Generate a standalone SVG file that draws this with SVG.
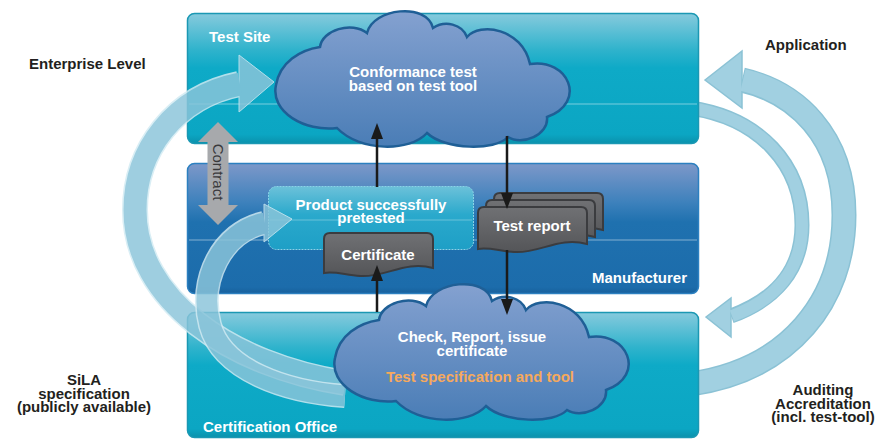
<svg xmlns="http://www.w3.org/2000/svg" width="879" height="439" viewBox="0 0 879 439">
  <defs>
    <linearGradient id="gTeal" x1="0" y1="0" x2="0" y2="1">
      <stop offset="0" stop-color="#86cadd"/>
      <stop offset="0.28" stop-color="#2fb3cc"/>
      <stop offset="0.42" stop-color="#0eaac7"/>
      <stop offset="0.93" stop-color="#0ba6c3"/>
      <stop offset="1" stop-color="#0a91ac"/>
    </linearGradient>
    <linearGradient id="gBlue" x1="0" y1="0" x2="0" y2="1">
      <stop offset="0" stop-color="#7d98c9"/>
      <stop offset="0.3" stop-color="#3d81bc"/>
      <stop offset="0.45" stop-color="#1f71af"/>
      <stop offset="0.95" stop-color="#1c6cab"/>
      <stop offset="1" stop-color="#17609c"/>
    </linearGradient>
    <linearGradient id="gProduct" x1="0" y1="0" x2="0" y2="1">
      <stop offset="0" stop-color="#6cc1d9"/>
      <stop offset="0.45" stop-color="#2aa9cc"/>
      <stop offset="1" stop-color="#1e9fc6"/>
    </linearGradient>
    <linearGradient id="gCloud" x1="0" y1="0" x2="0" y2="1">
      <stop offset="0" stop-color="#84a1d0"/>
      <stop offset="1" stop-color="#4a7db6"/>
    </linearGradient>
    <linearGradient id="gDoc" x1="0" y1="0" x2="0" y2="1">
      <stop offset="0" stop-color="#707174"/>
      <stop offset="1" stop-color="#545558"/>
    </linearGradient>
    <path id="cloud" d="M 320,47 C 322,30 352,21 367,33 C 373,8 427,2 433,28 C 445,20 462,24 467,37 C 480,22 522,28 530,64 C 568,58 588,102 547,117 C 549,135 522,146 508,137 C 495,151 445,150 427,133 C 410,152 360,152 337,128 C 305,132 270,112 276,85 C 280,62 300,50 320,47 Z"/>
    <marker id="head" viewBox="0 0 16 12" refX="0" refY="6" markerWidth="16" markerHeight="12" markerUnits="userSpaceOnUse" orient="auto">
      <path d="M0,0 L16,6 L0,12 Z" fill="#1a1a1a"/>
    </marker>
  </defs>
  <style>
    .panel { stroke-width: 1.5; }
    .divider { stroke: #ffffff; stroke-opacity: 0.45; stroke-width: 1; }
    .cloud { fill: url(#gCloud); stroke: #1f5f96; stroke-width: 2.5; }
    .doc { fill: url(#gDoc); stroke: #3b3c3f; stroke-width: 2; }
    .flow { stroke: #1a1a1a; stroke-width: 2.5; fill: none; marker-end: url(#head); }
    .wt { font-family: "Liberation Sans", Arial, sans-serif; font-weight: bold; font-size: 15px; fill: #ffffff; }
    .bk { font-family: "Liberation Sans", Arial, sans-serif; font-weight: bold; font-size: 15px; fill: #231f20; }
    .mid { text-anchor: middle; }
    .ring-edge { fill: none; stroke: #8bc2d5; }
    .ring-body { fill: none; stroke: #a1d0e1; }
    .ring-head { fill: #a1d0e1; stroke: #8bc2d5; stroke-width: 1.5; stroke-linejoin: miter; }
    .loop-edge { fill: none; stroke: #d2ebf3; }
    .loop-body { fill: none; stroke: #8bc5da; }
    .loop-head { fill: #8bc5da; stroke: #d2ebf3; stroke-width: 1; }
  </style>

  <rect x="0" y="0" width="879" height="439" fill="#ffffff"/>

  <!-- right-hand cycle arrows (pass behind the panels) -->
  <g id="arrow-application">
    <path class="ring-edge" stroke-width="25" d="M 690,384 C 790,370 844,300 844,215 C 844,135 795,92 742,80"/>
    <polygon class="ring-head" points="705,80 742,51 742,108"/>
    <path class="ring-body" stroke-width="22" d="M 690,384 C 790,370 844,300 844,215 C 844,135 795,92 743,80"/>
  </g>
  <g id="arrow-auditing">
    <path class="ring-edge" stroke-width="15" d="M 690,108 C 760,118 802,165 802,225 C 802,270 775,300 731,316"/>
    <polygon class="ring-head" points="706,317 731,298 731,337"/>
    <path class="ring-body" stroke-width="12" d="M 690,108 C 760,118 802,165 802,225 C 802,270 775,300 732,316"/>
  </g>

  <!-- swim-lane panels -->
  <g id="test-site">
    <rect class="panel" x="187.5" y="13.5" width="511" height="130" rx="7" fill="url(#gTeal)" stroke="#1b98b3"/>
    <line class="divider" x1="189" y1="104" x2="697" y2="104"/>
    <text class="wt" x="209" y="42">Test Site</text>
  </g>
  <g id="manufacturer">
    <rect class="panel" x="187.5" y="163.5" width="511" height="130" rx="7" fill="url(#gBlue)" stroke="#2c80c0"/>
    <line class="divider" x1="189" y1="240" x2="697" y2="240"/>
    <text class="wt" x="687" y="283" text-anchor="end">Manufacturer</text>
  </g>
  <g id="certification-office">
    <rect class="panel" x="187.5" y="312.5" width="511" height="125" rx="7" fill="url(#gTeal)" stroke="#1b98b3"/>
    <text class="wt" x="203" y="432">Certification Office</text>
  </g>

  <!-- product status box -->
  <g id="product">
    <rect x="268.5" y="186.5" width="205" height="63" rx="8" fill="url(#gProduct)" stroke="#8ad3e7" stroke-width="1" stroke-dasharray="2 1"/>
    <line x1="270" y1="220" x2="472" y2="220" stroke="#ffffff" stroke-opacity="0.3" stroke-width="1"/>
  </g>

  <!-- left-hand cycle arrows (translucent, over the panels) -->
  <g id="arrow-enterprise" opacity="0.83">
    <path class="loop-edge" stroke-width="26" d="M 345,383 C 230,365 135,300 135,210 C 135,150 175,97 239,84"/>
    <polygon class="loop-head" points="274,82 239,55 239,112"/>
    <path class="loop-body" stroke-width="23" d="M 345,383 C 230,365 135,300 135,210 C 135,150 175,97 240,84"/>
  </g>
  <g id="arrow-sila" opacity="0.83">
    <path class="loop-edge" stroke-width="24" d="M 345,396 C 285,392 222,370 210,325 C 198,280 222,232 264,223"/>
    <polygon class="loop-head" points="292,219 264,204 264,242"/>
    <path class="loop-body" stroke-width="21" d="M 345,396 C 285,392 222,370 210,325 C 198,280 222,232 265,223"/>
  </g>

  <!-- clouds -->
  <g id="conformance-test">
    <use href="#cloud" class="cloud"/>
    <text class="wt mid" x="413" y="77">Conformance test</text>
    <text class="wt mid" x="413" y="91">based on test tool</text>
  </g>
  <g id="check-report">
    <use href="#cloud" class="cloud" transform="translate(59,273)"/>
    <text class="wt mid" x="472" y="342">Check, Report, issue</text>
    <text class="wt mid" x="472" y="356">certificate</text>
    <text class="wt mid" x="480" y="382" style="fill:#f6a95c">Test specification and tool</text>
  </g>

  <g id="product-label">
    <text class="wt mid" x="371" y="210">Product successfully</text>
    <text class="wt mid" x="371" y="223">pretested</text>
  </g>

  <!-- documents -->
  <g id="test-report">
    <path class="doc" d="M 494,199 Q 494,193 500,193 H 597 Q 603,193 603,199 V 230 C 575,222 555,240 530,238 C 515,237 505,234 494,236 Z"/>
    <path class="doc" d="M 486,206 Q 486,200 492,200 H 589 Q 595,200 595,206 V 237 C 567,229 547,247 522,245 C 507,244 497,241 486,243 Z"/>
    <path class="doc" d="M 478,213 Q 478,207 484,207 H 581 Q 587,207 587,213 V 244 C 559,236 539,254 514,252 C 499,251 489,247 478,249 Z"/>
    <text class="wt mid" x="532" y="231">Test report</text>
  </g>
  <g id="certificate">
    <path class="doc" d="M 324,239 Q 324,233 330,233 H 427 Q 433,233 433,239 V 268 C 405,260 385,278 360,276 C 345,275 335,271 324,273 Z"/>
    <text class="wt mid" x="378" y="260">Certificate</text>
  </g>

  <!-- process flow connectors -->
  <g id="connectors">
    <line class="flow" x1="377" y1="187" x2="377" y2="139"/>
    <line class="flow" x1="507" y1="136" x2="507" y2="193"/>
    <line class="flow" x1="507" y1="250" x2="507" y2="299"/>
    <line class="flow" x1="377" y1="312" x2="377" y2="281"/>
  </g>

  <!-- contract between test site and manufacturer -->
  <g id="contract">
    <polygon points="218,122 238,142 228.5,142 228.5,205 238,205 218,225 198,205 207.5,205 207.5,142 198,142" fill="#a7a9ac"/>
    <text transform="translate(212.5,172) rotate(90)" text-anchor="middle" font-family="Liberation Sans, Arial, sans-serif" font-size="15" fill="#3a3a3c">Contract</text>
  </g>

  <!-- outer labels -->
  <g id="labels">
    <text class="bk" x="29" y="69">Enterprise Level</text>
    <text class="bk" x="765" y="50">Application</text>
    <text class="bk mid" x="84" y="385">SiLA</text>
    <text class="bk mid" x="84" y="399">specification</text>
    <text class="bk mid" x="84" y="412">(publicly available)</text>
    <text class="bk mid" x="823" y="395">Auditing</text>
    <text class="bk mid" x="823" y="409">Accreditation</text>
    <text class="bk mid" x="823" y="422">(incl. test-tool)</text>
  </g>
</svg>
